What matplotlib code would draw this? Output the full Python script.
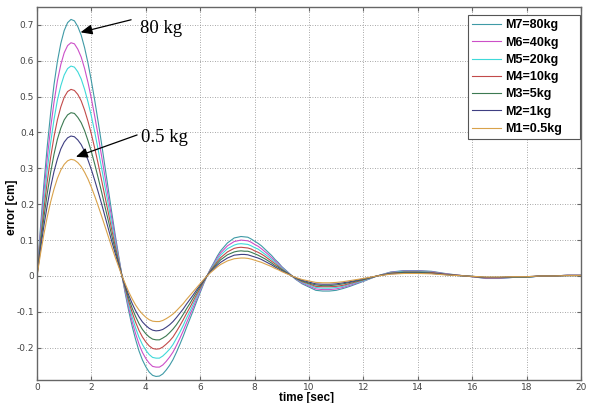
import numpy as np
import matplotlib
matplotlib.use("Agg")
import matplotlib.pyplot as plt

# time samples [sec]: fine steps during the large swings, coarser once it settles
time = np.r_[np.arange(0, 9.01, 0.125), np.arange(9.25, 12.01, 0.25), np.arange(12.5, 20.01, 0.5)]

# tracking error [cm] for each mass
err_m1 = [0.000, 0.060, 0.115, 0.164, 0.206, 0.242, 0.272, 0.295, 0.311, 0.321, 0.325, 0.323, 0.316,
          0.305, 0.289, 0.270, 0.247, 0.222, 0.195, 0.167, 0.138, 0.109, 0.080, 0.052, 0.026, 0.000,
          -0.023, -0.045, -0.064, -0.081, -0.095, -0.106, -0.115, -0.122, -0.126, -0.127, -0.127,
          -0.124, -0.119, -0.113, -0.106, -0.097, -0.087, -0.077, -0.065, -0.054, -0.043, -0.032,
          -0.021, -0.010, 0.000, 0.009, 0.017, 0.025, 0.032, 0.037, 0.042, 0.045, 0.048, 0.049, 0.050,
          0.050, 0.049, 0.047, 0.044, 0.041, 0.038, 0.034, 0.030, 0.026, 0.021, 0.017, 0.012] + \
         [0.004, -0.004, -0.010, -0.014, -0.018, -0.019, -0.019, -0.018, -0.016, -0.013, -0.010, -0.007] + \
         [0.000, 0.005, 0.007, 0.007, 0.006, 0.003, 0.001, -0.001, -0.003, -0.003, -0.002, -0.002,
          0.000, 0.000, 0.001, 0.001]
err_m2 = [0.000, 0.072, 0.138, 0.196, 0.247, 0.291, 0.326, 0.354, 0.373, 0.385, 0.390, 0.388, 0.379,
          0.366, 0.347, 0.323, 0.296, 0.266, 0.234, 0.201, 0.166, 0.131, 0.096, 0.063, 0.031, 0.000,
          -0.028, -0.054, -0.077, -0.097, -0.114, -0.128, -0.138, -0.146, -0.151, -0.153, -0.152,
          -0.149, -0.143, -0.136, -0.127, -0.116, -0.104, -0.092, -0.078, -0.065, -0.052, -0.038,
          -0.025, -0.012, 0.000, 0.011, 0.020, 0.030, 0.038, 0.044, 0.050, 0.054, 0.058, 0.059, 0.060,
          0.060, 0.059, 0.056, 0.053, 0.050, 0.046, 0.041, 0.036, 0.031, 0.025, 0.020, 0.014] + \
         [0.005, -0.005, -0.012, -0.017, -0.022, -0.023, -0.023, -0.022, -0.019, -0.016, -0.012, -0.008] + \
         [0.000, 0.006, 0.008, 0.008, 0.007, 0.004, 0.001, -0.001, -0.004, -0.004, -0.002, -0.002,
          0.000, 0.000, 0.001, 0.001]
err_m3 = [0.000, 0.084, 0.161, 0.229, 0.288, 0.339, 0.381, 0.412, 0.435, 0.449, 0.455, 0.453, 0.442,
          0.427, 0.405, 0.377, 0.346, 0.311, 0.273, 0.234, 0.193, 0.153, 0.112, 0.073, 0.036, 0.000,
          -0.032, -0.063, -0.090, -0.113, -0.133, -0.149, -0.161, -0.170, -0.176, -0.178, -0.178,
          -0.173, -0.167, -0.158, -0.148, -0.136, -0.122, -0.107, -0.091, -0.076, -0.060, -0.044,
          -0.029, -0.014, 0.000, 0.013, 0.024, 0.035, 0.045, 0.052, 0.059, 0.063, 0.067, 0.069, 0.070,
          0.069, 0.069, 0.066, 0.062, 0.058, 0.053, 0.048, 0.042, 0.036, 0.029, 0.024, 0.017] + \
         [0.006, -0.006, -0.014, -0.020, -0.025, -0.027, -0.027, -0.025, -0.022, -0.018, -0.014, -0.010] + \
         [0.000, 0.007, 0.010, 0.010, 0.008, 0.004, 0.001, -0.001, -0.004, -0.004, -0.003, -0.003,
          0.000, 0.000, 0.001, 0.001]
err_m4 = [0.000, 0.096, 0.184, 0.262, 0.330, 0.388, 0.435, 0.471, 0.498, 0.514, 0.520, 0.517, 0.506,
          0.488, 0.462, 0.431, 0.395, 0.355, 0.312, 0.267, 0.221, 0.175, 0.128, 0.084, 0.042, 0.000,
          -0.037, -0.072, -0.102, -0.129, -0.152, -0.170, -0.184, -0.195, -0.202, -0.204, -0.203,
          -0.198, -0.190, -0.181, -0.170, -0.155, -0.139, -0.122, -0.104, -0.087, -0.069, -0.051,
          -0.034, -0.016, 0.000, 0.015, 0.027, 0.040, 0.051, 0.059, 0.067, 0.072, 0.077, 0.079, 0.080,
          0.079, 0.078, 0.075, 0.070, 0.066, 0.061, 0.055, 0.048, 0.041, 0.034, 0.027, 0.019] + \
         [0.006, -0.006, -0.016, -0.022, -0.029, -0.030, -0.030, -0.029, -0.026, -0.021, -0.016, -0.011] + \
         [0.000, 0.008, 0.011, 0.011, 0.010, 0.005, 0.002, -0.002, -0.005, -0.005, -0.003, -0.003,
          0.000, 0.000, 0.002, 0.002]
err_m5 = [0.000, 0.108, 0.207, 0.294, 0.371, 0.436, 0.490, 0.530, 0.560, 0.578, 0.585, 0.582, 0.569,
          0.549, 0.520, 0.485, 0.445, 0.400, 0.351, 0.301, 0.248, 0.197, 0.144, 0.094, 0.047, 0.000,
          -0.041, -0.081, -0.115, -0.145, -0.171, -0.191, -0.207, -0.219, -0.227, -0.229, -0.229,
          -0.223, -0.214, -0.204, -0.191, -0.174, -0.157, -0.138, -0.117, -0.098, -0.077, -0.057,
          -0.038, -0.018, 0.000, 0.016, 0.031, 0.045, 0.058, 0.067, 0.076, 0.081, 0.086, 0.089, 0.090,
          0.089, 0.088, 0.084, 0.079, 0.075, 0.068, 0.061, 0.054, 0.046, 0.038, 0.030, 0.022] + \
         [0.007, -0.007, -0.018, -0.025, -0.032, -0.034, -0.034, -0.032, -0.029, -0.023, -0.018, -0.013] + \
         [0.000, 0.009, 0.013, 0.013, 0.011, 0.005, 0.002, -0.002, -0.005, -0.005, -0.004, -0.004,
          0.000, 0.000, 0.002, 0.002]
err_m6 = [0.000, 0.120, 0.230, 0.327, 0.412, 0.484, 0.544, 0.589, 0.622, 0.642, 0.650, 0.647, 0.632,
          0.610, 0.578, 0.539, 0.494, 0.444, 0.390, 0.334, 0.276, 0.218, 0.160, 0.105, 0.052, 0.000,
          -0.046, -0.090, -0.128, -0.161, -0.190, -0.213, -0.230, -0.243, -0.252, -0.254, -0.254,
          -0.248, -0.238, -0.226, -0.212, -0.194, -0.174, -0.153, -0.130, -0.108, -0.086, -0.063,
          -0.042, -0.020, 0.000, 0.018, 0.034, 0.050, 0.064, 0.074, 0.084, 0.090, 0.096, 0.098, 0.100,
          0.099, 0.098, 0.094, 0.088, 0.083, 0.076, 0.068, 0.060, 0.051, 0.042, 0.034, 0.024] + \
         [0.008, -0.008, -0.020, -0.028, -0.036, -0.038, -0.038, -0.036, -0.032, -0.026, -0.020, -0.014] + \
         [0.000, 0.010, 0.014, 0.014, 0.012, 0.006, 0.002, -0.002, -0.006, -0.006, -0.004, -0.004,
          0.000, 0.000, 0.002, 0.002]
err_m7 = [0.000, 0.132, 0.253, 0.360, 0.453, 0.533, 0.598, 0.648, 0.684, 0.706, 0.715, 0.711, 0.695,
          0.671, 0.636, 0.593, 0.543, 0.488, 0.429, 0.368, 0.304, 0.240, 0.176, 0.115, 0.057, 0.000,
          -0.051, -0.099, -0.141, -0.177, -0.209, -0.234, -0.253, -0.268, -0.277, -0.280, -0.279,
          -0.273, -0.262, -0.249, -0.233, -0.213, -0.191, -0.168, -0.143, -0.119, -0.095, -0.070,
          -0.046, -0.022, 0.000, 0.020, 0.037, 0.055, 0.070, 0.081, 0.092, 0.099, 0.106, 0.108, 0.110,
          0.109, 0.108, 0.103, 0.097, 0.091, 0.084, 0.075, 0.066, 0.057, 0.046, 0.037, 0.026] + \
         [0.009, -0.009, -0.022, -0.031, -0.040, -0.042, -0.042, -0.040, -0.035, -0.029, -0.022, -0.015] + \
         [0.000, 0.011, 0.015, 0.015, 0.013, 0.007, 0.002, -0.002, -0.007, -0.007, -0.004, -0.004,
          0.000, 0.000, 0.002, 0.002]

labels = ["M7=80kg", "M6=40kg", "M5=20kg", "M4=10kg", "M3=5kg", "M2=1kg", "M1=0.5kg"]
series = [err_m7, err_m6, err_m5, err_m4, err_m3, err_m2, err_m1]
colors = ["#3f9aa6", "#cc4fc8", "#3fd9d9", "#c24a4a", "#3c7a52", "#3f3f82", "#d9a24a"]

fig = plt.figure(figsize=(5.92, 4.03), dpi=100, facecolor="white")
ax = fig.add_axes([0.0625, 0.057, 0.919, 0.926])

for y, lab, c in zip(series, labels, colors):
    ax.plot(time, y, color=c, lw=0.8, label=lab)

ax.set_xlim(0, 20)
ax.set_ylim(-0.29, 0.75)
ax.set_xticks(np.arange(0, 21, 2))
ax.set_yticks(np.arange(-0.2, 0.71, 0.1))
ax.set_yticklabels(["-0.2", "-0.1", "0", "0.1", "0.2", "0.3", "0.4", "0.5", "0.6", "0.7"])
ax.tick_params(direction="in", length=3, width=0.8, top=True, right=True,
               labelsize=6.5, labelcolor="#444444", color="#666666", pad=2)
ax.grid(True, color="#8a8a8a", linestyle=(0, (1, 2)), linewidth=0.6)
for s in ax.spines.values():
    s.set_color("#666666")
    s.set_linewidth(1.0)

ax.set_xlabel("time [sec]", fontsize=8.5, fontweight="bold", family="Liberation Sans")
ax.set_ylabel("error [cm]", fontsize=8.5, fontweight="bold", family="Liberation Sans")
ax.xaxis.set_label_coords(0.495, -0.032)
ax.yaxis.set_label_coords(-0.035, 0.464)

# callouts for the heaviest and lightest mass
arrow = dict(arrowstyle="-|>,head_length=0.7,head_width=0.3", color="black", lw=0.9,
             shrinkA=0, shrinkB=0)
ax.annotate("", xy=(1.60, 0.679), xytext=(3.46, 0.714), arrowprops=arrow)
ax.text(4.56, 0.691, "80 kg", fontsize=13.5, family="Liberation Serif", ha="center", va="center")
ax.annotate("", xy=(1.43, 0.332), xytext=(3.68, 0.393), arrowprops=arrow)
ax.text(4.69, 0.386, "0.5 kg", fontsize=13.5, family="Liberation Serif", ha="center", va="center")

leg = ax.legend(loc="upper left", bbox_to_anchor=(468 / 592, 1 - 141 / 403, 112 / 592, 126 / 403),
                bbox_transform=fig.transFigure, mode="expand", borderaxespad=0, fancybox=False,
                framealpha=1, edgecolor="#555555", handlelength=2.3, handletextpad=0.3,
                labelspacing=0.42, borderpad=0.35,
                prop={"family": "Liberation Sans", "weight": "bold", "size": 9})
leg.get_frame().set_linewidth(0.8)

fig.savefig("out.png", dpi=100, facecolor="white")
